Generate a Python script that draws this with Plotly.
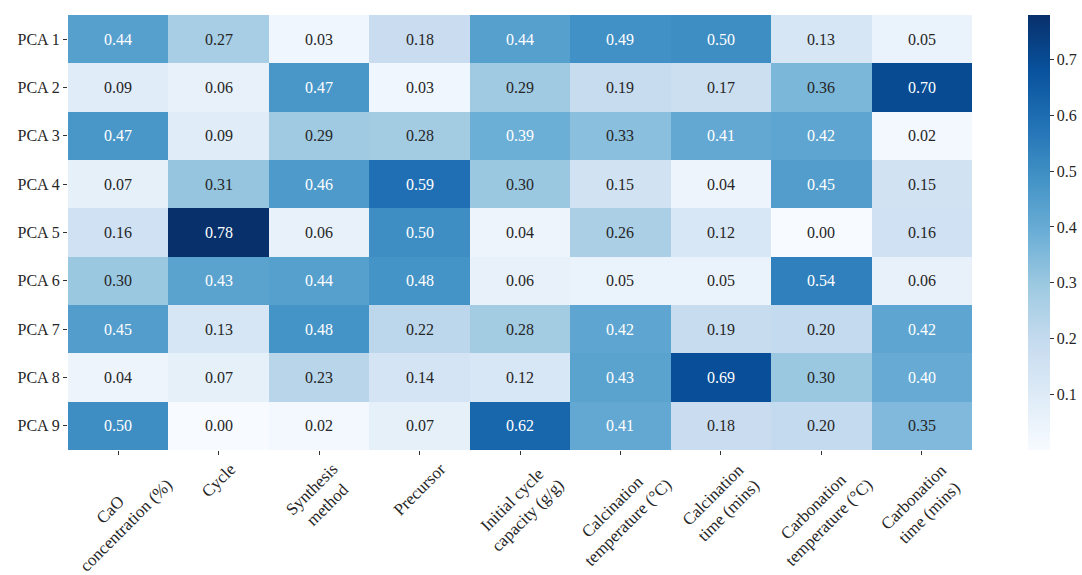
import plotly.graph_objects as go
import numpy as np

# Loadings of each feature on the principal components
features = [
    "CaO<br>concentration (%)",
    "Cycle",
    "Synthesis<br>method",
    "Precursor",
    "Initial cycle<br>capacity (g/g)",
    "Calcination<br>temperature (°C)",
    "Calcination<br>time (mins)",
    "Carbonation<br>temperature (°C)",
    "Carbonation<br>time (mins)",
]
components = ["PCA 1", "PCA 2", "PCA 3", "PCA 4", "PCA 5", "PCA 6", "PCA 7", "PCA 8", "PCA 9"]

pca1 = [0.44, 0.27, 0.03, 0.18, 0.44, 0.49, 0.50, 0.13, 0.05]
pca2 = [0.09, 0.06, 0.47, 0.03, 0.29, 0.19, 0.17, 0.36, 0.70]
pca3 = [0.47, 0.09, 0.29, 0.28, 0.39, 0.33, 0.41, 0.42, 0.02]
pca4 = [0.07, 0.31, 0.46, 0.59, 0.30, 0.15, 0.04, 0.45, 0.15]
pca5 = [0.16, 0.78, 0.06, 0.50, 0.04, 0.26, 0.12, 0.00, 0.16]
pca6 = [0.30, 0.43, 0.44, 0.48, 0.06, 0.05, 0.05, 0.54, 0.06]
pca7 = [0.45, 0.13, 0.48, 0.22, 0.28, 0.42, 0.19, 0.20, 0.42]
pca8 = [0.04, 0.07, 0.23, 0.14, 0.12, 0.43, 0.69, 0.30, 0.40]
pca9 = [0.50, 0.00, 0.02, 0.07, 0.62, 0.41, 0.18, 0.20, 0.35]

z = np.array([pca1, pca2, pca3, pca4, pca5, pca6, pca7, pca8, pca9])

FONT = "Liberation Serif"

blues = [
    [0.0, "rgb(247,251,255)"], [0.125, "rgb(222,235,247)"], [0.25, "rgb(198,219,239)"],
    [0.375, "rgb(158,202,225)"], [0.5, "rgb(107,174,214)"], [0.625, "rgb(66,146,198)"],
    [0.75, "rgb(33,113,181)"], [0.875, "rgb(8,81,156)"], [1.0, "rgb(8,48,107)"],
]

W, H = 1082, 575
L, R, T, B = 68, 0, 15, 125
plot_w = W - L - R
heat_w = 904  # heatmap width in px, colorbar sits in the space to its right

fig = go.Figure()

fig.add_trace(go.Heatmap(
    z=z,
    x=list(range(len(features))),
    y=components,
    colorscale=blues,
    zmin=0,
    zmax=z.max(),
    hovertemplate="%{y}<br>%{z:.2f}<extra></extra>",
    colorbar=dict(
        x=(heat_w + 56) / plot_w, xanchor="left", xpad=0,
        y=0.5, yanchor="middle", len=1, ypad=0,
        thickness=22,
        outlinewidth=0,
        tickvals=[0.1, 0.2, 0.3, 0.4, 0.5, 0.6, 0.7],
        ticks="outside", ticklen=4, tickcolor="#333",
        tickfont=dict(family=FONT, size=16, color="#262626"),
    ),
))

# cell values, light text on dark cells
annotations = []
for i, comp in enumerate(components):
    for j in range(len(features)):
        v = z[i, j]
        annotations.append(dict(
            x=j, y=comp, xref="x", yref="y",
            text=f"{v:.2f}",
            showarrow=False,
            font=dict(family=FONT, size=16, color="#ffffff" if v > 0.37 else "#262626"),
        ))

# rotated, centred feature labels under the ticks
for j, name in enumerate(features):
    annotations.append(dict(
        x=j, y=0, xref="x", yref="paper",
        text=name, showarrow=False,
        textangle=-45,
        xanchor="center", yanchor="top",
        yshift=-7,
        align="center",
        font=dict(family=FONT, size=17, color="#262626"),
    ))

fig.update_layout(
    width=W,
    height=H,
    margin=dict(l=L, r=R, t=T, b=B),
    paper_bgcolor="white",
    plot_bgcolor="white",
    annotations=annotations,
    xaxis=dict(
        domain=[0, heat_w / plot_w],
        tickvals=list(range(len(features))),
        showticklabels=False,
        ticks="outside", ticklen=4, tickcolor="#333",
        showgrid=False, zeroline=False,
        range=[-0.5, len(features) - 0.5],
    ),
    yaxis=dict(
        autorange="reversed",
        ticks="outside", ticklen=4, tickcolor="#333",
        tickfont=dict(family=FONT, size=16, color="#262626"),
        showgrid=False, zeroline=False,
    ),
)

# drop the default 8px body margin so the figure fills the window
fig.write_html(
    "out.html",
    config={"displayModeBar": False},
    post_script="document.body.style.margin = '0';",
)
